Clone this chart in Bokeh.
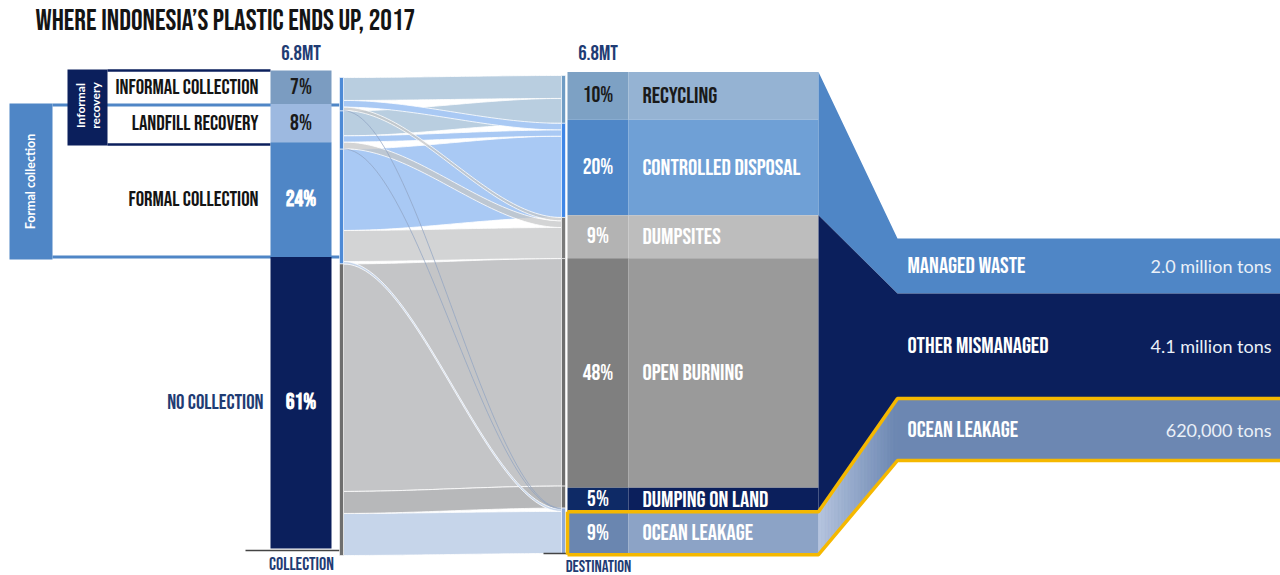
import numpy as np
from bokeh.plotting import figure
from bokeh.models import Range1d
from bokeh.core.properties import value
from bokeh.embed import file_html
from bokeh.resources import INLINE

# ---------------- data ----------------
title = "WHERE INDONESIA’S PLASTIC ENDS UP, 2017"
total_label = "6.8MT"

collection_cats = ["INFORMAL COLLECTION", "LANDFILL RECOVERY", "FORMAL COLLECTION", "NO COLLECTION"]
collection_pct = [7, 8, 24, 61]

destination_cats = ["RECYCLING", "CONTROLLED DISPOSAL", "DUMPSITES", "OPEN BURNING",
                    "DUMPING ON LAND", "OCEAN LEAKAGE"]
destination_pct = [10, 20, 9, 48, 5, 9]

# flows collection -> destination (share of total, %)
flow_source = ["INFORMAL COLLECTION"] * 4 + ["LANDFILL RECOVERY"] * 4 + ["FORMAL COLLECTION"] * 3 + ["NO COLLECTION"] * 3
flow_target = ["RECYCLING", "CONTROLLED DISPOSAL", "DUMPSITES", "OCEAN LEAKAGE",
               "RECYCLING", "CONTROLLED DISPOSAL", "DUMPSITES", "OCEAN LEAKAGE",
               "CONTROLLED DISPOSAL", "DUMPSITES", "OCEAN LEAKAGE",
               "OPEN BURNING", "DUMPING ON LAND", "OCEAN LEAKAGE"]
flow_value = [4.8, 1.4, 0.7, 0.1,
              5.2, 1.3, 1.4, 0.1,
              17.0, 6.5, 0.5,
              47.6, 4.6, 8.8]

summary_cats = ["MANAGED WASTE", "OTHER MISMANAGED", "OCEAN LEAKAGE"]
summary_amounts = ["2.0 million tons", "4.1 million tons", "620,000 tons"]
summary_members = [["RECYCLING", "CONTROLLED DISPOSAL"],
                   ["DUMPSITES", "OPEN BURNING", "DUMPING ON LAND"],
                   ["OCEAN LEAKAGE"]]

# ---------------- layout ----------------
W, H = 1280, 575
Y0, K = 70.0, 4.78          # pixel row of 0 %, pixels per %
def P(pix):                 # pixel row -> % units on the y scale
    return (pix - Y0) / K

COND = "Bebas Neue, Oswald, sans-serif"
SANS = "Lato"
NAVY = "#0b1f5c"
TXT_NAVY = "#1f3c74"

p = figure(width=W, height=H, x_range=Range1d(0, W), y_range=Range1d(P(H), P(0)),
           output_backend="svg", toolbar_location=None, min_border=0,
           x_axis_location=None, y_axis_location=None)
p.grid.visible = False
p.outline_line_color = None
p.background_fill_color = "white"
p.border_fill_color = "white"

def txt(x, y, s, size, color="#141414", font=COND, style="normal", align="left", base="middle", angle=0.0):
    p.text(x=[x], y=[y], text=[s], text_font=value(font), text_font_size=value(size),
           text_font_style=style, text_color=color, text_align=align, text_baseline=base, angle=angle)

# title
txt(35, P(21), title, "29px", "#141414")

# ---------------- left brackets ----------------
BLUE = "#4f86c6"
p.quad(left=[9], right=[52], top=[P(103)], bottom=[P(259)], fill_color=BLUE, line_color=None)
p.segment(x0=[52, 52], x1=[340, 340], y0=[P(104.5), P(256.5)], y1=[P(104.5), P(256.5)],
          line_color=BLUE, line_width=3)
txt(30, P(181), "Formal collection", "12.5px", "white", SANS, "bold", "center", "middle", np.pi / 2)

p.segment(x0=[107, 107], x1=[270, 270], y0=[P(70), P(144)], y1=[P(70), P(144)],
          line_color=NAVY, line_width=2.5)
p.quad(left=[67], right=[107], top=[P(69)], bottom=[P(145)], fill_color=NAVY, line_color=None)
txt(80, P(105), "Informal", "12px", "white", SANS, "bold", "center", "middle", np.pi / 2)
txt(95, P(105), "recovery", "12px", "white", SANS, "bold", "center", "middle", np.pi / 2)

# ---------------- collection bar ----------------
c_cum = np.cumsum([0] + collection_pct)
c_top, c_bot = c_cum[:-1], c_cum[1:]
c_mid = (c_top + c_bot) / 2
c_fill = ["#7b9cc1", "#9db9e0", "#4f86c6", NAVY]
c_txt = ["#1a1a1a", "#1a1a1a", "white", "white"]
c_sty = ["normal", "normal", "bold", "bold"]
p.quad(left=270, right=331, top=c_top, bottom=c_bot, fill_color=c_fill, line_color=None)
p.text(x=[300.5] * 4, y=c_mid, text=[f"{v}%" for v in collection_pct], text_color=c_txt,
       text_font=value(COND), text_font_size=value("22px"), text_font_style=c_sty,
       text_align="center", text_baseline="middle")
lab_x = [258, 258, 258, 263]
lab_c = ["#141414", "#141414", "#141414", TXT_NAVY]
p.text(x=lab_x, y=c_mid, text=collection_cats, text_color=lab_c,
       text_font=value(COND), text_font_size=value("21px"),
       text_align="right", text_baseline="middle")
txt(300.5, P(53), total_label, "21px", TXT_NAVY, COND, "normal", "center")
p.segment(x0=[245], x1=[356], y0=[P(550)], y1=[P(550)], line_color="#444444", line_width=1.5)
txt(301, P(564), "COLLECTION", "18px", TXT_NAVY, COND, "normal", "center")

# ---------------- flows ----------------
XL, XR = 343, 561
oL, oR = P(77), P(75)
src_idx = {c: i for i, c in enumerate(collection_cats)}
tgt_idx = {c: i for i, c in enumerate(destination_cats)}
n_f = len(flow_value)
order_left = sorted(range(n_f), key=lambda k: (src_idx[flow_source[k]], tgt_idx[flow_target[k]]))
order_right = sorted(range(n_f), key=lambda k: (tgt_idx[flow_target[k]], src_idx[flow_source[k]]))
ly, ry = {}, {}
acc = oL
for k in order_left:
    ly[k] = (acc, acc + flow_value[k]); acc += flow_value[k]
acc = oR
for k in order_right:
    ry[k] = (acc, acc + flow_value[k]); acc += flow_value[k]

tgt_color = {"RECYCLING": "#b9cee0", "CONTROLLED DISPOSAL": "#a9c9f4", "DUMPSITES": "#c4c5c7",
             "OPEN BURNING": "#c4c5c7", "DUMPING ON LAND": "#b7b8ba", "OCEAN LEAKAGE": "#c6d5ea"}
tgt_alpha = {"RECYCLING": 1.0, "CONTROLLED DISPOSAL": 1.0, "DUMPSITES": 0.75,
             "OPEN BURNING": 1.0, "DUMPING ON LAND": 1.0, "OCEAN LEAKAGE": 1.0}

u = np.linspace(0, 1, 60)
s = 3 * u ** 2 - 2 * u ** 3
xs_band = XL + (XR - XL) * u
bx, by, bc, ba = [], [], [], []
tx, ty = [], []
for k in sorted(range(n_f), key=lambda k: -flow_value[k]):
    (a0, a1), (b0, b1) = ly[k], ry[k]
    top = a0 + (b0 - a0) * s
    bot = a1 + (b1 - a1) * s
    if flow_value[k] <= 0.2:
        tx.append(list(xs_band)); ty.append(list((top + bot) / 2))
        continue
    bx.append(list(xs_band) + list(xs_band[::-1]))
    by.append(list(top) + list(bot[::-1]))
    bc.append(tgt_color[flow_target[k]]); ba.append(tgt_alpha[flow_target[k]])
p.patches(xs=bx, ys=by, fill_color=bc, fill_alpha=ba, line_color="white", line_width=0.8)
p.multi_line(xs=tx, ys=ty, line_color="#8fa2c2", line_width=1, line_alpha=0.7)

# node edges
src_tot = [sum(v for v, sname in zip(flow_value, flow_source) if sname == c) for c in collection_cats]
tgt_tot = [sum(v for v, tname in zip(flow_value, flow_target) if tname == c) for c in destination_cats]
sl = np.cumsum([oL] + src_tot)
tl = np.cumsum([oR] + tgt_tot)
p.quad(left=339, right=343, top=sl[:-1], bottom=sl[1:],
       fill_color=["#4d8ad6", "#4d8ad6", "#4d8ad6", "#6e6e6e"], line_color="white", line_width=0.6)
p.quad(left=561, right=565, top=tl[:-1], bottom=tl[1:],
       fill_color=["#6f9cc4", "#3f86e6", "#7a7a7a", "#6e6e6e", "#6e6e6e", "#8ea9d6"],
       line_color="white", line_width=0.6)

# ---------------- destination bar ----------------
oD = 0.3
d_cum = np.cumsum([oD] + destination_pct)
d_top, d_bot = d_cum[:-1], d_cum[1:]
d_mid = (d_top + d_bot) / 2
d_fill_pct = ["#7da1c4", "#4f87c8", "#b3b3b3", "#7f7f7f", "#0e2a66", "#6a86b0"]
d_fill_lab = ["#95b3d3", "#6fa0d6", "#bdbdbd", "#9a9a9a", NAVY, "#8ca3c6"]
d_txt = ["#1a1a1a", "white", "white", "white", "white", "white"]
p.quad(left=567, right=628, top=d_top, bottom=d_bot, fill_color=d_fill_pct, line_color=None)
p.quad(left=628, right=818, top=d_top, bottom=d_bot, fill_color=d_fill_lab, line_color=None)
p.text(x=[597.5] * 6, y=d_mid, text=[f"{v}%" for v in destination_pct], text_color=d_txt,
       text_font=value(COND), text_font_size=value("22px"),
       text_align="center", text_baseline="middle")
p.text(x=[642] * 6, y=d_mid, text=destination_cats, text_color=d_txt,
       text_font=value(COND), text_font_size=value("23px"),
       text_align="left", text_baseline="middle")
txt(597.5, P(53), total_label, "21px", TXT_NAVY, COND, "normal", "center")
p.segment(x0=[543], x1=[566], y0=[P(553)], y1=[P(553)], line_color="#444444", line_width=1.5)
txt(598, P(566), "DESTINATION", "17px", TXT_NAVY, COND, "normal", "center")

# ---------------- summary funnel ----------------
XS0, XS1, XS2 = 818, 897, W
band_pix = [(238, 293), (293, 398), (398, 460)]
grp = []
for mem in summary_members:
    i0 = destination_cats.index(mem[0]); i1 = destination_cats.index(mem[-1])
    grp.append((d_top[i0], d_bot[i1]))
s_fill = ["#4f86c6", NAVY, "#6c87b2"]
for (g0, g1), (r0, r1), col in zip(grp, band_pix, s_fill):
    p.patch(x=[XS0, XS1, XS2, XS2, XS1, XS0], y=[g0, P(r0), P(r0), P(r1), P(r1), g1],
            fill_color=col, line_color=None)
# lighter gradient on the slanted ocean part
(g0, g1), (r0, r1) = grp[2], band_pix[2]
c0, c1 = np.array([0xb6, 0xc5, 0xdf]), np.array([0x6c, 0x87, 0xb2])
nseg = 24
for i in range(nseg):
    fa, fb = i / nseg, (i + 1) / nseg
    col = "#%02x%02x%02x" % tuple(int(v) for v in (c0 + (c1 - c0) * (fa + fb) / 2))
    xa, xb = XS0 + (XS1 - XS0) * fa, XS0 + (XS1 - XS0) * fb
    ta, tb = g0 + (P(r0) - g0) * fa, g0 + (P(r0) - g0) * fb
    ba_, bb_ = g1 + (P(r1) - g1) * fa, g1 + (P(r1) - g1) * fb
    p.patch(x=[xa, xb, xb, xa], y=[ta, tb, bb_, ba_], fill_color=col, line_color=col, line_width=0.8)
YEL = "#f5b800"
p.multi_line(xs=[[567, XS0, XS1, XS2], [567, XS0, XS1, XS2], [567, 567]],
             ys=[[g0, g0, P(r0), P(r0)], [g1, g1, P(r1), P(r1)], [g0, g1]],
             line_color=YEL, line_width=3.5)
s_mid = [P((a + b) / 2) for a, b in band_pix]
p.text(x=[907] * 3, y=s_mid, text=summary_cats, text_color="white",
       text_font=value(COND), text_font_size=value("23px"),
       text_align="left", text_baseline="middle")
p.text(x=[1271] * 3, y=s_mid, text=summary_amounts, text_color="#eaf0f8",
       text_font=value(SANS), text_font_size=value("18px"),
       text_align="right", text_baseline="middle")

open("out.html", "w").write(file_html(p, INLINE))
